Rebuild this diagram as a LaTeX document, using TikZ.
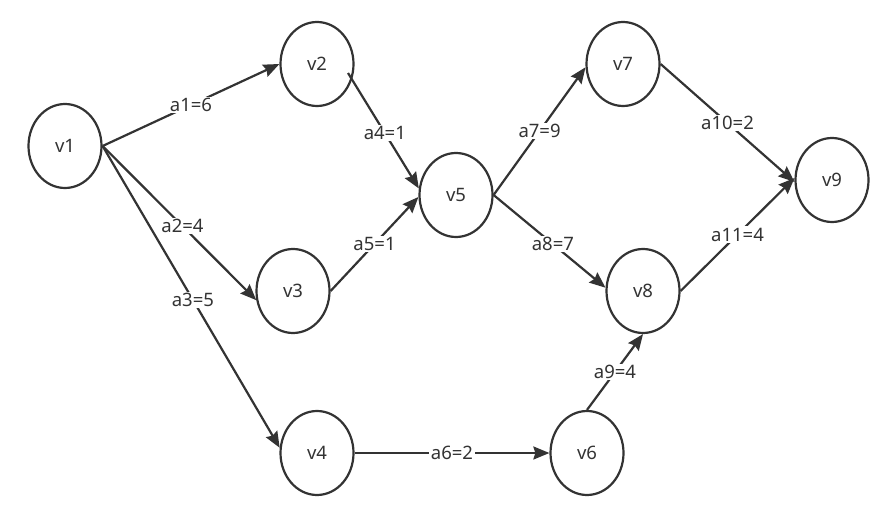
\documentclass[tikz,border=0pt]{standalone}
\usepackage{fontspec}
\setmainfont{Noto Sans}
\usetikzlibrary{shapes.geometric,arrows.meta}
\definecolor{ink}{HTML}{333333}
\tikzset{
  vert/.style={ellipse,draw=ink,line width=2.2pt,minimum width=73pt,minimum height=84pt,inner sep=0pt,text=ink,font=\fontsize{18.5}{22}\selectfont},
  edge/.style={draw=ink,line width=2.2pt,-{Stealth[length=16pt,width=13pt,inset=2pt]}},
  wlabel/.style={fill=white,inner sep=1.5pt,text=ink,font=\fontsize{18.5}{22}\selectfont}
}
\begin{document}
\begin{tikzpicture}[x=1pt,y=-1pt]
\useasboundingbox (0,0) rectangle (888,529);
\node[vert] (v1) at (65,146) {v1};
\node[vert] (v2) at (317,64) {v2};
\node[vert] (v3) at (293,291) {v3};
\node[vert] (v4) at (317,453) {v4};
\node[vert] (v5) at (456,195) {v5};
\node[vert] (v6) at (587,453) {v6};
\node[vert] (v7) at (623,64) {v7};
\node[vert] (v8) at (643,291) {v8};
\node[vert] (v9) at (832,180) {v9};

\draw[edge] (v1.east) -- node[wlabel,pos=0.5] {a1=6} (v2.west);
\draw[edge] (v1.east) -- node[wlabel,pos=0.52] {a2=4} (v3.194);
\draw[edge] (v1.east) -- node[wlabel,pos=0.51] {a3=5} (v4.172);
\draw[edge] ([shift={(31,9)}]v2.center) -- node[wlabel,pos=0.52] {a4=1} (v5.170);
\draw[edge] (v3.east) -- node[wlabel,pos=0.5] {a5=1} (v5.183);
\draw[edge] (v4.east) -- node[wlabel,pos=0.5] {a6=2} (v6.west);
\draw[edge] (v5.east) -- node[wlabel,pos=0.5] {a7=9} (v7.185);
\draw[edge] (v5.east) -- node[wlabel,pos=0.53] {a8=7} (v8.175);
\draw[edge] (v6.north) -- node[wlabel,pos=0.5] {a9=4} (v8.south);
\draw[edge] (v7.east) -- node[wlabel,pos=0.5] {a10=2} (v9.183);
\draw[edge] (v8.east) -- node[wlabel,pos=0.5] {a11=4} (v9.177);
\end{tikzpicture}
\end{document}
